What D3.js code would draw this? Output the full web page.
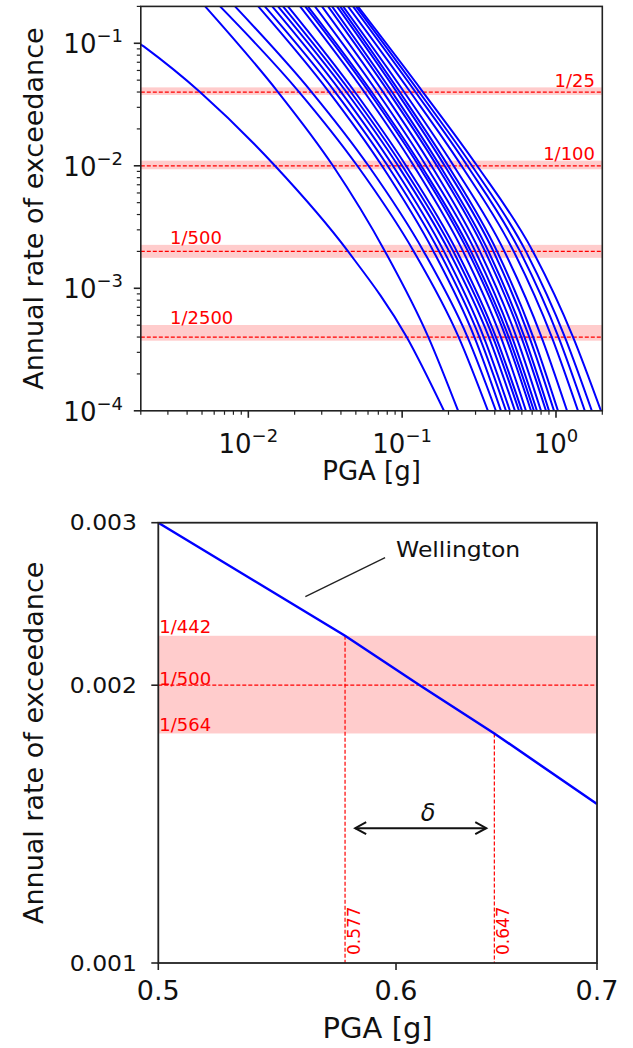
<!DOCTYPE html>
<html><head><meta charset="utf-8">
<script src="https://cdn.jsdelivr.net/npm/d3@7"></script>
<style>body{margin:0;background:#fff;} text{font-family:"DejaVu Sans",sans-serif;}</style>
</head><body>
<svg id="c" width="633" height="1048"></svg>
<script>
// ---------- DATA: top panel (hazard curves, PGA [g] at each annual rate) ----------
const rateLevels = [0.2, 0.04, 0.01, 0.002, 0.0004, 0.0001];
const curvePGA = [
  [0.0009, 0.00485, 0.0149, 0.0445, 0.107, 0.187],
  [0.00524, 0.0156, 0.0355, 0.0774, 0.148, 0.231],
  [0.00655, 0.0214, 0.0511, 0.119, 0.233, 0.361],
  [0.00819, 0.0258, 0.0604, 0.138, 0.266, 0.407],
  [0.0116, 0.0335, 0.0739, 0.160, 0.295, 0.439],
  [0.0128, 0.0367, 0.0805, 0.174, 0.318, 0.473],
  [0.0143, 0.0401, 0.0871, 0.187, 0.339, 0.502],
  [0.0156, 0.0434, 0.0941, 0.202, 0.366, 0.541],
  [0.0168, 0.0463, 0.100, 0.215, 0.389, 0.575],
  [0.0181, 0.0493, 0.106, 0.227, 0.407, 0.601],
  [0.0217, 0.0568, 0.119, 0.249, 0.438, 0.638],
  [0.0234, 0.0609, 0.128, 0.268, 0.472, 0.688],
  [0.0244, 0.0634, 0.133, 0.280, 0.493, 0.719],
  [0.0271, 0.0689, 0.143, 0.299, 0.518, 0.752],
  [0.0301, 0.0752, 0.155, 0.320, 0.553, 0.799],
  [0.0330, 0.0816, 0.168, 0.346, 0.595, 0.861],
  [0.0350, 0.0859, 0.176, 0.364, 0.624, 0.901],
  [0.0377, 0.0922, 0.189, 0.392, 0.671, 0.971],
  [0.0395, 0.0964, 0.199, 0.414, 0.711, 1.03],
  [0.0413, 0.103, 0.216, 0.462, 0.805, 1.18],
  [0.0445, 0.113, 0.243, 0.531, 0.939, 1.39],
  [0.0479, 0.122, 0.265, 0.584, 1.038, 1.54],
  [0.0501, 0.129, 0.284, 0.637, 1.142, 1.71],
  [0.0516, 0.1365, 0.307, 0.708, 1.291, 1.96]
];
const returnPeriods = [25, 100, 500, 2500];
const bandHi = [1/22.9, 1/90.8, 1/442, 1/1993];
const bandLo = [1/26.4, 1/106.8, 1/564, 1/2677];
const topXDomain = [0.002, 2];
const topYDomain = [1e-4, 0.2];
const topXMajor = [0.01, 0.1, 1];
const topXExp = ["\u22122", "\u22121", "0"];
const topYMajor = [1e-4, 1e-3, 1e-2, 1e-1];
const topYExp = ["\u22124", "\u22123", "\u22122", "\u22121"];

// ---------- DATA: bottom panel (Wellington) ----------
const wPGA = [0.5, 0.577, 0.611, 0.647, 0.7];
const wRate = [0.003, 1/442, 1/500, 1/564, 0.001487];
const botXDomain = [0.5, 0.7];
const botYDomain = [0.001, 0.003];
const botXTicks = [0.5, 0.6, 0.7];
const botXTickLabels = ["0.5", "0.6", "0.7"];
const botYTicks = [0.001, 0.002, 0.003];
const botYTickLabels = ["0.001", "0.002", "0.003"];
const bandRates = [1/442, 1/500, 1/564];
const bandLabels = ["1/442", "1/500", "1/564"];
const pgaMarks = [0.577, 0.647];
const pgaMarkLabels = ["0.577", "0.647"];
const arrowPGA = [0.5815, 0.643];
const arrowRate = 0.0014;
const deltaPGA = 0.615;
const wellLabelPt = [0.600, 0.00281];
const wellLeader = [[0.5597, 0.002495], [0.595, 0.00275]];

const svg = d3.select("#c");

// ================= TOP PANEL =================
const T = {l: 140.8, r: 602.3, t: 6.4, b: 410.8};
const xT = d3.scaleLog().domain(topXDomain).range([T.l, T.r]);
const yT = d3.scaleLog().domain(topYDomain).range([T.b, T.t]);
svg.append("clipPath").attr("id", "clipT").append("rect")
  .attr("x", T.l).attr("y", T.t).attr("width", T.r - T.l).attr("height", T.b - T.t);
const gT = svg.append("g").attr("clip-path", "url(#clipT)");

returnPeriods.forEach((rp, i) => {
  gT.append("rect").attr("x", T.l).attr("width", T.r - T.l)
    .attr("y", yT(bandHi[i])).attr("height", yT(bandLo[i]) - yT(bandHi[i]))
    .attr("fill", "#ff0000").attr("fill-opacity", 0.2);
  gT.append("line").attr("x1", T.l).attr("x2", T.r)
    .attr("y1", yT(1/rp)).attr("y2", yT(1/rp))
    .attr("stroke", "#ff0000").attr("stroke-width", 1.2).attr("stroke-dasharray", "4,2");
});

const lineT = d3.line().x(d => xT(d[0])).y(d => yT(d[1])).curve(d3.curveMonotoneX);
curvePGA.forEach(c => {
  gT.append("path").attr("d", lineT(c.map((p, j) => [p, rateLevels[j]])))
    .attr("fill", "none").attr("stroke", "#0000ff").attr("stroke-width", 2);
});

returnPeriods.forEach((rp, i) => {
  const right = i < 2;
  svg.append("text").attr("x", right ? 595 : 170).attr("y", yT(bandHi[i]) - 0.5)
    .attr("text-anchor", right ? "end" : "start")
    .attr("font-size", 18).attr("fill", "#ff0000").text("1/" + rp);
});

svg.append("rect").attr("x", T.l).attr("y", T.t).attr("width", T.r - T.l).attr("height", T.b - T.t)
  .attr("fill", "none").attr("stroke", "#222").attr("stroke-width", 1.6);

const minorX = xT.ticks().filter(v => !topXMajor.some(m => Math.abs(m - v) / m < 1e-6));
const minorY = yT.ticks().filter(v => !topYMajor.some(m => Math.abs(m - v) / m < 1e-6));
minorX.forEach(v => svg.append("line").attr("x1", xT(v)).attr("x2", xT(v)).attr("y1", T.b).attr("y2", T.b + 4).attr("stroke", "#222").attr("stroke-width", 1.2));
minorY.forEach(v => svg.append("line").attr("y1", yT(v)).attr("y2", yT(v)).attr("x1", T.l).attr("x2", T.l - 4).attr("stroke", "#222").attr("stroke-width", 1.2));
topXMajor.forEach((v, i) => {
  svg.append("line").attr("x1", xT(v)).attr("x2", xT(v)).attr("y1", T.b).attr("y2", T.b + 7).attr("stroke", "#222").attr("stroke-width", 1.6);
  const t = svg.append("text").attr("x", xT(v)).attr("y", T.b + 42).attr("text-anchor", "middle").attr("font-size", 26).attr("fill", "#111");
  t.append("tspan").text("10");
  t.append("tspan").attr("font-size", 18).attr("dy", -11).text(topXExp[i]);
});
topYMajor.forEach((v, i) => {
  svg.append("line").attr("y1", yT(v)).attr("y2", yT(v)).attr("x1", T.l).attr("x2", T.l - 7).attr("stroke", "#222").attr("stroke-width", 1.6);
  const t = svg.append("text").attr("x", 123).attr("y", yT(v) + 10).attr("text-anchor", "end").attr("font-size", 26).attr("fill", "#111");
  t.append("tspan").text("10");
  t.append("tspan").attr("font-size", 18).attr("dy", -11).text(topYExp[i]);
});
svg.append("text").attr("x", (T.l + T.r) / 2).attr("y", 480).attr("text-anchor", "middle")
  .attr("font-size", 26).attr("fill", "#111").text("PGA [g]");
svg.append("text").attr("transform", `translate(43,${(T.t + T.b) / 2}) rotate(-90)`)
  .attr("text-anchor", "middle").attr("font-size", 27).attr("fill", "#111").text("Annual rate of exceedance");

// ================= BOTTOM PANEL =================
const B = {l: 158.3, r: 597, t: 522.7, b: 963};
const xB = d3.scaleLog().domain(botXDomain).range([B.l, B.r]);
const yB = d3.scaleLog().domain(botYDomain).range([B.b, B.t]);

svg.append("rect").attr("x", B.l).attr("width", B.r - B.l)
  .attr("y", yB(bandRates[0])).attr("height", yB(bandRates[2]) - yB(bandRates[0]))
  .attr("fill", "#ff0000").attr("fill-opacity", 0.2);
svg.append("line").attr("x1", B.l).attr("x2", B.r).attr("y1", yB(bandRates[1])).attr("y2", yB(bandRates[1]))
  .attr("stroke", "#ff0000").attr("stroke-width", 1.2).attr("stroke-dasharray", "4,2");
pgaMarks.forEach((p, i) => {
  const r = wRate[wPGA.indexOf(p)];
  svg.append("line").attr("x1", xB(p)).attr("x2", xB(p)).attr("y1", yB(r)).attr("y2", B.b)
    .attr("stroke", "#ff0000").attr("stroke-width", 1.2).attr("stroke-dasharray", "4,2");
  svg.append("text").attr("transform", `translate(${xB(p) + 15},${B.b - 8}) rotate(-90)`)
    .attr("font-size", 17).attr("fill", "#ff0000").text(pgaMarkLabels[i]);
});
const lineB = d3.line().x(d => xB(d[0])).y(d => yB(d[1]));
svg.append("path").attr("d", lineB(wPGA.map((p, i) => [p, wRate[i]])))
  .attr("fill", "none").attr("stroke", "#0000ff").attr("stroke-width", 2.5);

bandLabels.forEach((lab, i) => {
  const yy = i === 0 ? yB(bandRates[0]) - 3 : i === 1 ? yB(bandRates[1]) : yB(bandRates[2]) - 2;
  svg.append("text").attr("x", B.l + 1).attr("y", yy).attr("font-size", 18).attr("fill", "#ff0000").text(lab);
});

svg.append("line").attr("x1", xB(wellLeader[0][0])).attr("y1", yB(wellLeader[0][1]))
  .attr("x2", xB(wellLeader[1][0])).attr("y2", yB(wellLeader[1][1]))
  .attr("stroke", "#222").attr("stroke-width", 1.3);
svg.append("text").attr("transform", `translate(${xB(wellLabelPt[0])},${yB(wellLabelPt[1]) + 8}) scale(1.12,1)`)
  .attr("font-size", 21).attr("fill", "#111").text("Wellington");

const ax1 = xB(arrowPGA[0]), ax2 = xB(arrowPGA[1]), ay = yB(arrowRate);
svg.append("line").attr("x1", ax1).attr("x2", ax2).attr("y1", ay).attr("y2", ay).attr("stroke", "#111").attr("stroke-width", 2);
svg.append("path").attr("d", `M${ax1 + 11},${ay - 6}L${ax1},${ay}L${ax1 + 11},${ay + 6}M${ax2 - 11},${ay - 6}L${ax2},${ay}L${ax2 - 11},${ay + 6}`)
  .attr("fill", "none").attr("stroke", "#111").attr("stroke-width", 2);
svg.append("text").attr("x", xB(deltaPGA)).attr("y", ay - 7).attr("text-anchor", "middle")
  .attr("font-size", 24).attr("font-style", "italic").attr("fill", "#111").text("δ");

svg.append("rect").attr("x", B.l).attr("y", B.t).attr("width", B.r - B.l).attr("height", B.b - B.t)
  .attr("fill", "none").attr("stroke", "#222").attr("stroke-width", 1.8);

botXTicks.forEach((v, i) => {
  svg.append("line").attr("x1", xB(v)).attr("x2", xB(v)).attr("y1", B.b).attr("y2", B.b + 7).attr("stroke", "#222").attr("stroke-width", 1.6);
  svg.append("text").attr("x", xB(v)).attr("y", B.b + 37).attr("text-anchor", "middle")
    .attr("font-size", 27).attr("fill", "#111").text(botXTickLabels[i]);
});
botYTicks.forEach((v, i) => {
  svg.append("line").attr("y1", yB(v)).attr("y2", yB(v)).attr("x1", B.l).attr("x2", B.l - 7).attr("stroke", "#222").attr("stroke-width", 1.6);
  svg.append("text").attr("transform", `translate(137,${yB(v) + 7.5}) scale(1.12,1)`).attr("text-anchor", "end")
    .attr("font-size", 21).attr("fill", "#111").text(botYTickLabels[i]);
});
svg.append("text").attr("x", (B.l + B.r) / 2).attr("y", 1038).attr("text-anchor", "middle")
  .attr("font-size", 29).attr("fill", "#111").text("PGA [g]");
svg.append("text").attr("transform", `translate(43,${(B.t + B.b) / 2}) rotate(-90)`)
  .attr("text-anchor", "middle").attr("font-size", 27).attr("fill", "#111").text("Annual rate of exceedance");
</script>
</body></html>
